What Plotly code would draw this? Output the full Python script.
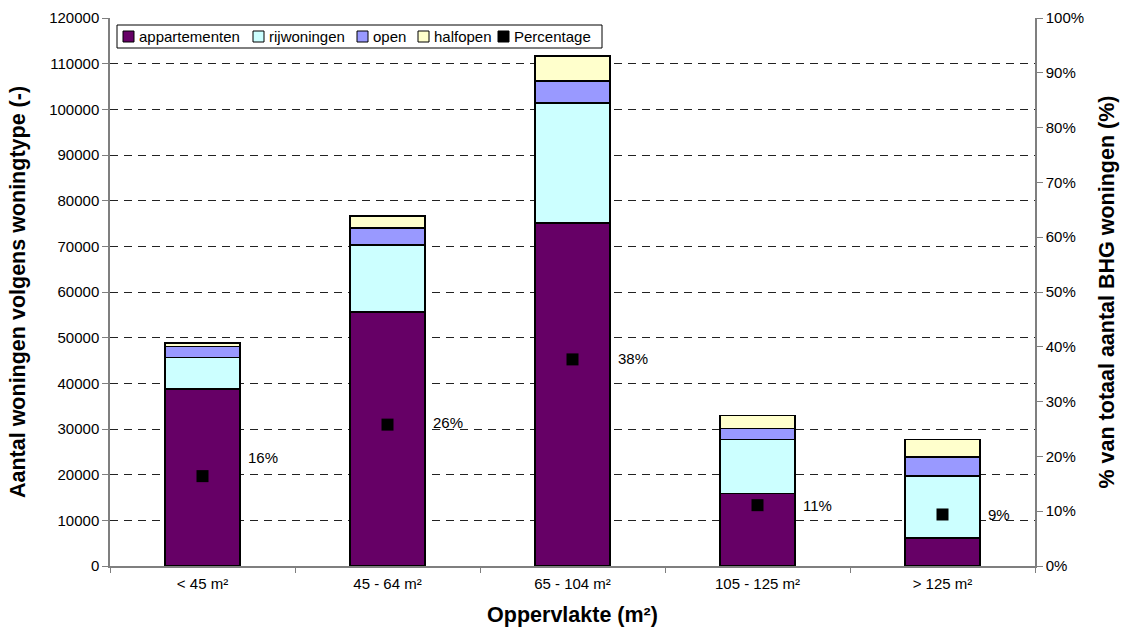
import plotly.graph_objects as go

# Woningen per oppervlakteklasse en woningtype
categories = ["< 45 m²", "45 - 64 m²", "65 - 104 m²", "105 - 125 m²", "> 125 m²"]
appartementen = [38800, 55600, 75100, 15900, 6100]
rijwoningen = [6900, 14700, 26300, 11800, 13600]
open_woningen = [2400, 3700, 4800, 2400, 4200]
halfopen = [700, 2600, 5500, 2900, 3800]
percentage = [0.164, 0.258, 0.377, 0.111, 0.094]

FONT = "Liberation Sans, Arial, sans-serif"
AXIS_GREY = "#7f7f7f"
TICK_SIZE = 15
TITLE_SIZE = 21.5

W, H = 1128, 628
M_L, M_R, M_T, M_B = 110, 93, 18, 62
PLOT_W = W - M_L - M_R
PLOT_H = H - M_T - M_B


def px_x(px):
    """Pixel column -> paper x (relative to the plot area)."""
    return (px - M_L) / PLOT_W


def px_y(py):
    """Pixel row (from top) -> paper y (relative to the plot area)."""
    return (H - M_B - py) / PLOT_H


series = [
    ("appartementen", appartementen, "#660066"),
    ("rijwoningen", rijwoningen, "#CCFFFF"),
    ("open", open_woningen, "#9999FF"),
    ("halfopen", halfopen, "#FFFFCC"),
]

fig = go.Figure()
for name, values, color in series:
    fig.add_trace(go.Bar(
        x=categories, y=values, name=name,
        marker=dict(color=color, line=dict(color="black", width=1.5)),
        yaxis="y",
    ))

fig.add_trace(go.Scatter(
    x=categories, y=percentage, name="Percentage", mode="markers",
    marker=dict(symbol="square", size=12, color="black"),
    yaxis="y2",
))

# Percentage labels to the right of each marker
label_yshift = [19, 2, 1, 0, 0]
for cat, p, ys in zip(categories, percentage, label_yshift):
    fig.add_annotation(
        x=cat, y=p, xref="x", yref="y2", text=f"{round(p * 100)}%",
        showarrow=False, xanchor="left", yanchor="middle",
        xshift=43, yshift=ys, font=dict(family=FONT, size=TICK_SIZE, color="black"),
    )

# Compact legend box: frame, swatches and labels
legend_items = [(name, color) for name, _, color in series] + [("Percentage", "black")]
swatch_left = [123, 253, 357, 418, 498]
box = dict(x0=117, x1=602, y0=25, y1=48)
fig.add_shape(
    type="rect", xref="paper", yref="paper",
    x0=px_x(box["x0"]), x1=px_x(box["x1"]), y0=px_y(box["y1"]), y1=px_y(box["y0"]),
    line=dict(color="black", width=1), fillcolor="white", layer="above",
)
sw = 11
cy = (box["y0"] + box["y1"]) / 2
for (name, color), sx in zip(legend_items, swatch_left):
    fig.add_shape(
        type="rect", xref="paper", yref="paper",
        x0=px_x(sx), x1=px_x(sx + sw), y0=px_y(cy + sw / 2), y1=px_y(cy - sw / 2),
        line=dict(color="black", width=1), fillcolor=color, layer="above",
    )
    fig.add_annotation(
        x=px_x(sx + sw + 3), y=px_y(cy), xref="paper", yref="paper",
        text=name, showarrow=False, xanchor="left", yanchor="middle",
        font=dict(family=FONT, size=TICK_SIZE, color="black"),
    )

fig.update_layout(
    width=W, height=H,
    margin=dict(l=M_L, r=M_R, t=M_T, b=M_B, autoexpand=False),
    paper_bgcolor="white", plot_bgcolor="white",
    barmode="stack", bargap=0.595,
    font=dict(family=FONT, size=TICK_SIZE, color="black"),
    showlegend=False,
    xaxis=dict(
        type="category", showline=True, linecolor=AXIS_GREY, linewidth=1.5,
        ticks="outside", tickson="boundaries", ticklen=5, tickcolor=AXIS_GREY,
        showgrid=False, tickfont=dict(size=TICK_SIZE), ticklabelstandoff=3,
        automargin=False,
        title=dict(text="<b>Oppervlakte (m²)</b>", font=dict(size=TITLE_SIZE), standoff=16),
    ),
    yaxis=dict(
        range=[0, 120000], dtick=10000, tickformat="d", showline=True,
        linecolor=AXIS_GREY, linewidth=1.5, ticks="outside", ticklen=6,
        tickcolor=AXIS_GREY, showgrid=True, gridcolor="#222222", gridwidth=1,
        griddash="8px,6px", zeroline=False, tickfont=dict(size=TICK_SIZE),
        automargin=False,
        title=dict(text="<b>Aantal woningen volgens woningtype (-)</b>",
                   font=dict(size=TITLE_SIZE), standoff=18),
    ),
    yaxis2=dict(
        overlaying="y", side="right", range=[0, 1], dtick=0.1, tickformat=".0%",
        showline=True, linecolor=AXIS_GREY, linewidth=1.5, ticks="outside",
        ticklen=6, tickcolor=AXIS_GREY, showgrid=False, zeroline=False,
        tickfont=dict(size=TICK_SIZE), automargin=False,
        title=dict(text="<b>% van totaal aantal BHG woningen (%)</b>",
                   font=dict(size=TITLE_SIZE), standoff=16),
    ),
)

fig.write_html("out.html")
